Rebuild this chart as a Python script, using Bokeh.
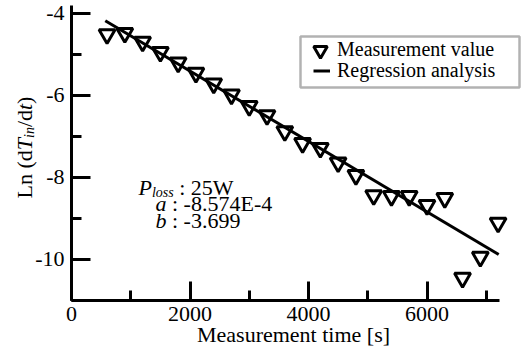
import math
from bokeh.plotting import figure
from bokeh.models import Range1d, SingleIntervalTicker, Label, Legend, LegendItem, BoxAnnotation
from bokeh.embed import file_html
from bokeh.resources import INLINE

# ---- data ----
time_s = [600, 900, 1200, 1500, 1800, 2100, 2400, 2700, 3000, 3300, 3600, 3900,
          4200, 4500, 4800, 5100, 5400, 5700, 6000, 6300, 6600, 6900, 7200]
ln_rate = [-4.52, -4.49, -4.70, -4.95, -5.21, -5.46, -5.72, -5.99, -6.27, -6.49, -6.88, -7.17,
           -7.29, -7.64, -7.95, -8.44, -8.46, -8.46, -8.68, -8.51, -10.45, -9.94, -9.11]
fit_a = -8.574e-4
fit_b = -3.699
fit_t = [570, 7210]
fit_y = [fit_a * t + fit_b for t in fit_t]

x_axis_bounds = (0, 7225)
y_axis_bounds = (-11, -3.82)
x_ticks_interval = 2000
y_ticks_interval = 2
y_tick_labels = {-4: "-4", -6: "-6", -8: "-8", -10: "-10"}
legend_labels = ["Measurement value", "Regression analysis"]

SERIF = "Liberation Serif"
SERIF_Q = "'Liberation Serif'"
NB = "\u00a0"

W_REG = {' ': .25, NB: .25, '(': .333, ')': .333, '/': .278, ':': .278, '-': .333, '.': .25,
         'E': .611, 'L': .611, 'W': .944, 'd': .5, 'n': .5}
W_IT = {'T': .556, 't': .278, 'i': .278, 'n': .5, 'a': .5, 'b': .5, 'P': .611,
        'l': .278, 'o': .5, 's': .389}


def text_width(s, italic, size):
    tbl = W_IT if italic else W_REG
    return sum(tbl.get(c, 0.5) for c in s) * size


W, H = 522, 347
# page pixel of x=0 is 71 and 59.25 px per 1000 s; y=-11 at 300, 41.07 px per unit
X0_PX, X_PX_PER = 71, 0.05925
Y0_PX, Y_PX_PER = 300, 41.07
x_start = -X0_PX / X_PX_PER
x_end = (W - X0_PX) / X_PX_PER
y_start = -11 - (H - Y0_PX) / Y_PX_PER
y_end = -11 + Y0_PX / Y_PX_PER

p = figure(width=W, height=H, output_backend="svg", toolbar_location=None,
           x_range=Range1d(x_start, x_end), y_range=Range1d(y_start, y_end),
           min_border_left=0, min_border_right=0, min_border_top=0, min_border_bottom=0)
p.xgrid.visible = False
p.ygrid.visible = False
p.outline_line_color = None
p.background_fill_color = "white"
p.border_fill_color = "white"

p.xaxis.ticker = SingleIntervalTicker(interval=x_ticks_interval, num_minor_ticks=2)
p.yaxis.ticker = SingleIntervalTicker(interval=y_ticks_interval, num_minor_ticks=2)
p.xaxis.fixed_location = y_axis_bounds[0]
p.yaxis.fixed_location = x_axis_bounds[0]
p.xaxis.bounds = x_axis_bounds
p.yaxis.bounds = y_axis_bounds
p.yaxis.major_label_overrides = y_tick_labels
for ax in (p.xaxis, p.yaxis):
    ax.axis_line_width = 3
    ax.axis_line_color = "black"
    ax.major_tick_line_width = 3
    ax.minor_tick_line_width = 3
    ax.major_tick_line_color = "black"
    ax.minor_tick_line_color = "black"
    ax.major_tick_in = 19
    ax.major_tick_out = 0
    ax.minor_tick_in = 10
    ax.minor_tick_out = 0
    ax.major_label_text_font = SERIF_Q
    ax.major_label_text_font_size = "22px"
    ax.major_label_text_color = "black"
p.xaxis.major_label_standoff = 6
p.yaxis.major_label_standoff = 7

pts = p.scatter(time_s, ln_rate, marker="inverted_triangle", size=16,
                line_color="black", line_width=3, fill_alpha=0)
fit = p.line(fit_t, fit_y, line_color="black", line_width=3)

# legend frame
p.add_layout(BoxAnnotation(left=300, right=519, top=H - 36, bottom=H - 87,
                           left_units="screen", right_units="screen",
                           top_units="screen", bottom_units="screen",
                           fill_color="white", fill_alpha=1,
                           line_color="black", line_width=2.5))

common = dict(label_text_font=SERIF, label_text_font_size="20px", label_text_color="black",
              label_height=19, padding=0, margin=0, spacing=0,
              border_line_color=None, background_fill_alpha=0)
# row centres at page y 49.5 and 72.5
leg1 = Legend(items=[LegendItem(label=legend_labels[0], renderers=[pts])],
              location=(303, H - 66.5), glyph_width=34, glyph_height=34, label_standoff=0,
              **common)
leg2 = Legend(items=[LegendItem(label=legend_labels[1], renderers=[fit])],
              location=(313, H - 82), glyph_width=17, glyph_height=19, label_standoff=7,
              **common)
p.add_layout(leg1)
p.add_layout(leg2)


def rich_text(px_page, py_page, pieces, angle=0.0):
    x = px_page
    y = H - py_page
    ca, sa = math.cos(angle), math.sin(angle)
    adv = 0.0
    for text, italic, size, drop in pieces:
        lx = x + adv * ca + drop * sa
        ly = y + adv * sa - drop * ca
        p.add_layout(Label(x=lx, y=ly, x_units="screen", y_units="screen", text=text,
                           angle=angle, text_font=SERIF, text_font_size=f"{size}px",
                           text_font_style="italic" if italic else "normal",
                           text_align="left", text_baseline="alphabetic",
                           text_color="black"))
        adv += text_width(text, italic, size)


# y axis title
rich_text(24, 198, [("Ln" + NB + "(d", False, 22, 0), ("T", True, 22, 0), ("in", True, 14, 5),
                    ("/d", False, 22, 0), ("t", True, 22, 0), (")", False, 22, 0)],
          angle=math.pi / 2)

# x axis title
p.add_layout(Label(x=293, y=H - 334, x_units="screen", y_units="screen",
                   text="Measurement time [s]", text_font=SERIF, text_font_size="22px",
                   text_align="center", text_baseline="alphabetic", text_color="black"))

# annotation
rich_text(138, 187, [("P", True, 22, 0), ("loss", True, 14, 5), (NB + ":" + NB + "25W", False, 22, 0)])
rich_text(155, 203, [("a", True, 22, 0), (NB + ":" + NB + "-8.574E-4", False, 22, 0)])
rich_text(155, 220, [("b", True, 22, 0), (NB + ":" + NB + "-3.699", False, 22, 0)])

open("out.html", "w").write(file_html(p, INLINE))
